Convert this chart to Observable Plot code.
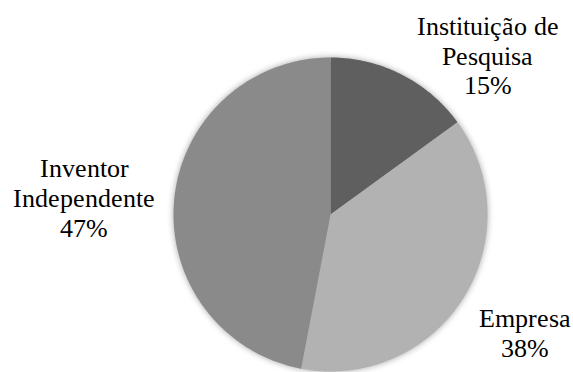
<!DOCTYPE html>
<html><head><meta charset="utf-8">
<script src="https://cdn.jsdelivr.net/npm/d3@7"></script>
<script src="https://cdn.jsdelivr.net/npm/@observablehq/plot@0.6"></script>
<style>
@font-face {
  font-family: "LabelSerif";
  src: local("Liberation Serif"), local("LiberationSerif"), local("Liberation Serif Regular"),
       local("LiberationSerif-Regular"), local("Times New Roman"), local("TimesNewRomanPSMT"),
       local("DejaVu Serif"), local("DejaVuSerif");
}
body{margin:0;background:#fff;overflow:hidden}
</style>
</head><body><div id="chart"></div>
<script>
// data
const categories = ["Instituição de Pesquisa", "Empresa", "Inventor Independente"];
const labelText = ["Instituição de\nPesquisa", "Empresa", "Inventor\nIndependente"];
const shares = [15, 38, 47];
const colors = ["#5f5f5f", "#b2b2b2", "#8a8a8a"];

// layout (label anchors in unit-circle coordinates)
const labelAnchorX = [1.0, 1.236, -1.567];
const labelAnchorY = [1.015, -0.75, 0.11];

const arcs = d3.pie().sort(null).value(d => d)(shares);
const slicePts = [];
arcs.forEach((a, i) => {
  const cat = categories[i];
  slicePts.push({cat, x: 0, y: 0});
  const n = Math.max(2, Math.ceil((a.endAngle - a.startAngle) / 0.01));
  for (let k = 0; k <= n; k++) {
    const t = a.startAngle + (a.endAngle - a.startAngle) * k / n;
    slicePts.push({cat, x: Math.sin(t), y: Math.cos(t)});
  }
  slicePts.push({cat, x: 0, y: 0});
});

const labels = categories.map((c, i) => ({
  cat: c,
  text: labelText[i] + "\n" + shares[i] + "%",
  x: labelAnchorX[i],
  y: labelAnchorY[i]
}));

function draw(size) {
  const chart = Plot.plot({
    width: 573,
    height: 372,
    style: {background: "#fff"},
    x: {domain: [-1, 1], range: [173, 487], axis: null},
    y: {domain: [-1, 1], range: [371, 57], axis: null},
    color: {domain: categories, range: colors},
    marks: [
      Plot.line(slicePts, {x: "x", y: "y", z: "cat", fill: "cat", stroke: "none", curve: "linear"}),
      Plot.text(labels, {x: "x", y: "y", text: "text", fontSize: size, lineHeight: 29.8 / size, fill: "#000", textAnchor: "middle", fontFamily: "LabelSerif"})
    ]
  });
  chart.querySelectorAll("text").forEach(t => { t.setAttribute("font-family", "LabelSerif"); t.style.fontFamily = "LabelSerif"; });
  const g = chart.querySelector('g[aria-label="line"]');
  if (g) g.style.filter = "drop-shadow(0px 0px 3px rgba(0,0,0,0.35))";
  const host = document.getElementById("chart");
  host.innerHTML = "";
  host.appendChild(chart);
  return chart;
}

let chart = draw(26);
document.fonts.load('26px "LabelSerif"', "Independente ção").then(() => {
  chart = draw(26);
  // keep the widest label line at the reference width (≈140px for "Independente")
  const ts = Array.from(chart.querySelectorAll("tspan")).find(t => t.textContent === "Independente");
  if (ts) {
    const w = ts.getComputedTextLength();
    if (w > 0 && Math.abs(w - 140) > 4) draw(26 * 140 / w);
  }
});
</script>
</body></html>
